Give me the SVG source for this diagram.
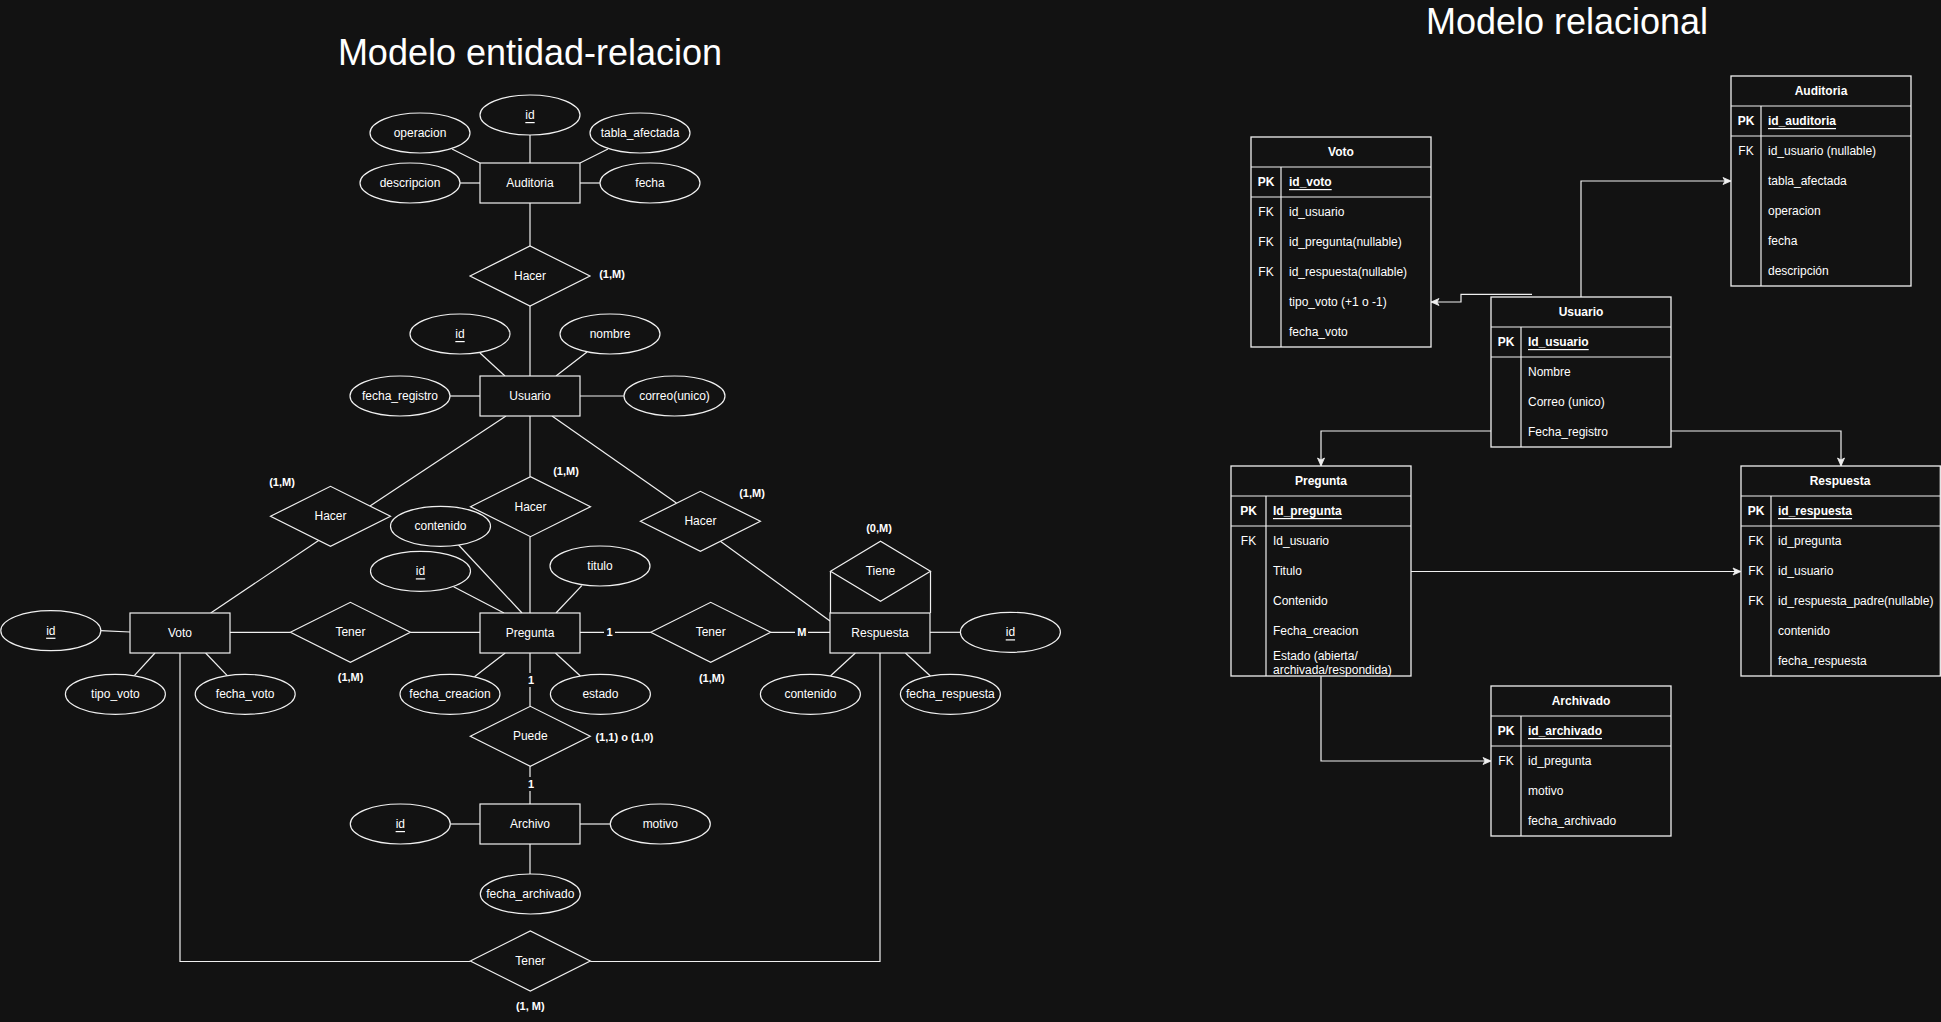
<svg xmlns="http://www.w3.org/2000/svg" width="1941" height="1022" viewBox="0 0 1941 1022">
<style>
text{font-family:"Liberation Sans",Arial,Helvetica,sans-serif;fill:#ffffff}
.t{font-size:12px;text-anchor:middle;dominant-baseline:central}
.c{font-size:11px;font-weight:bold;text-anchor:middle;dominant-baseline:central}
.u{text-decoration:underline}
.sh{fill:#121212;stroke:#f0f0f0;stroke-width:1.2}
.ln{fill:none;stroke:#f0f0f0;stroke-width:1.2}
.tb{fill:#121212;stroke:#f0f0f0;stroke-width:1.3}
.f{font-size:12px;dominant-baseline:central}
.b{font-weight:bold}
.k{font-size:12px;text-anchor:middle;dominant-baseline:central}
.title{font-size:36px;text-anchor:middle}
.bgl{fill:#121212}
</style>
<defs>
<marker id="arr" markerUnits="userSpaceOnUse" markerWidth="10" markerHeight="10" viewBox="0 0 10 10" refX="9" refY="5" orient="auto">
<path d="M1,1.5 L9,5 L1,8.5 L3,5 Z" fill="#f0f0f0" stroke="#f0f0f0" stroke-width="0.8"/>
</marker>
</defs>
<rect x="0" y="0" width="1941" height="1022" fill="#121212"/>

<text class="title" x="530" y="65">Modelo entidad-relacion</text>
<text class="title" x="1567" y="34">Modelo relacional</text>

<g id="er-connectors">
<line class="ln" x1="530" y1="135" x2="530" y2="163"/>
<line class="ln" x1="452" y1="149" x2="480" y2="163"/>
<line class="ln" x1="608" y1="149" x2="580" y2="163"/>
<line class="ln" x1="460" y1="183" x2="480" y2="183"/>
<line class="ln" x1="580" y1="183" x2="600" y2="183"/>
<line class="ln" x1="530" y1="203" x2="530" y2="246"/>
<line class="ln" x1="530" y1="306" x2="530" y2="376"/>
<line class="ln" x1="480" y1="353" x2="505" y2="376"/>
<line class="ln" x1="587" y1="352" x2="556" y2="376"/>
<line class="ln" x1="450" y1="396" x2="480" y2="396"/>
<line class="ln" x1="580" y1="396" x2="624" y2="396"/>
<line class="ln" x1="506" y1="416" x2="370" y2="506"/>
<line class="ln" x1="318.6" y1="540.4" x2="210.7" y2="613"/>
<line class="ln" x1="530" y1="416" x2="530" y2="476.7"/>
<line class="ln" x1="530" y1="536.7" x2="530" y2="613"/>
<line class="ln" x1="552" y1="416" x2="676.4" y2="503"/>
<line class="ln" x1="720.4" y1="541.3" x2="830" y2="621"/>
<line class="ln" x1="458.6" y1="545" x2="522" y2="613"/>
<line class="ln" x1="453.6" y1="586.7" x2="504" y2="613"/>
<line class="ln" x1="581.8" y1="585.7" x2="556" y2="613"/>
<line class="ln" x1="100.6" y1="630.7" x2="130" y2="632"/>
<line class="ln" x1="134.3" y1="675.7" x2="155" y2="653"/>
<line class="ln" x1="205.6" y1="653" x2="227.3" y2="675.7"/>
<line class="ln" x1="230" y1="632.3" x2="290.4" y2="632.3"/>
<line class="ln" x1="410.4" y1="632.3" x2="480" y2="632.3"/>
<line class="ln" x1="474.5" y1="676.7" x2="505.2" y2="653"/>
<line class="ln" x1="555.4" y1="653" x2="580.4" y2="676"/>
<line class="ln" x1="580" y1="632.3" x2="650.7" y2="632.3"/>
<line class="ln" x1="770.7" y1="632.3" x2="830" y2="632.3"/>
<line class="ln" x1="930" y1="632.3" x2="960.4" y2="632.3"/>
<line class="ln" x1="830.4" y1="676" x2="855.4" y2="653"/>
<line class="ln" x1="905.4" y1="653" x2="930.4" y2="676"/>
<line class="ln" x1="830.5" y1="613" x2="830.5" y2="571.3"/>
<line class="ln" x1="930.5" y1="613" x2="930.5" y2="571.3"/>
<line class="ln" x1="530" y1="653" x2="530" y2="706.3"/>
<line class="ln" x1="530" y1="766.3" x2="530" y2="804"/>
<line class="ln" x1="450.3" y1="824" x2="480" y2="824"/>
<line class="ln" x1="580" y1="824" x2="610.3" y2="824"/>
<line class="ln" x1="530" y1="844" x2="530" y2="874"/>
<polyline class="ln" points="180,653 180,961.5 470.3,961.5"/>
<polyline class="ln" points="880,653 880,961.5 590.3,961.5"/>
<rect class="bgl" x="604" y="625" width="11" height="14"/>
<text class="c" x="609.6" y="632">1</text>
<rect class="bgl" x="795" y="625" width="13" height="14"/>
<text class="c" x="801.8" y="632">M</text>
<rect class="bgl" x="525" y="673" width="11" height="14"/>
<text class="c" x="531" y="680">1</text>
<rect class="bgl" x="525" y="777" width="11" height="14"/>
<text class="c" x="531" y="784">1</text>
</g>

<g id="er-auditoria"><rect class="sh" x="480" y="163" width="100" height="40"/><text class="t" x="530" y="183">Auditoria</text></g>
<g id="er-aud-id"><ellipse class="sh" cx="530" cy="115" rx="50" ry="20"/><text class="t u" x="530" y="115">id</text></g>
<g id="er-aud-operacion"><ellipse class="sh" cx="420" cy="133" rx="50" ry="20"/><text class="t" x="420" y="133">operacion</text></g>
<g id="er-aud-tabla"><ellipse class="sh" cx="640" cy="133" rx="50" ry="20"/><text class="t" x="640" y="133">tabla_afectada</text></g>
<g id="er-aud-descripcion"><ellipse class="sh" cx="410" cy="183" rx="50" ry="20"/><text class="t" x="410" y="183">descripcion</text></g>
<g id="er-aud-fecha"><ellipse class="sh" cx="650" cy="183" rx="50" ry="20"/><text class="t" x="650" y="183">fecha</text></g>

<g id="er-hacer-aud"><polygon class="sh" points="470,276 530,246 590,276 530,306"/><text class="t" x="530" y="276">Hacer</text><text class="c" x="612" y="274">(1,M)</text></g>

<g id="er-usuario"><rect class="sh" x="480" y="376" width="100" height="40"/><text class="t" x="530" y="396">Usuario</text></g>
<g id="er-usu-id"><ellipse class="sh" cx="460" cy="334" rx="50" ry="20"/><text class="t u" x="460" y="334">id</text></g>
<g id="er-usu-nombre"><ellipse class="sh" cx="610" cy="334" rx="50" ry="20"/><text class="t" x="610" y="334">nombre</text></g>
<g id="er-usu-fecha"><ellipse class="sh" cx="400" cy="396" rx="50" ry="20"/><text class="t" x="400" y="396">fecha_registro</text></g>
<g id="er-usu-correo"><ellipse class="sh" cx="674.5" cy="396" rx="50.5" ry="20"/><text class="t" x="674.5" y="396">correo(unico)</text></g>

<g id="er-hacer-voto"><polygon class="sh" points="270.5,516.3 330.5,486.3 390.5,516.3 330.5,546.3"/><text class="t" x="330.5" y="516.3">Hacer</text><text class="c" x="282" y="482">(1,M)</text></g>
<g id="er-hacer-preg"><polygon class="sh" points="470.5,506.7 530.5,476.7 590.5,506.7 530.5,536.7"/><text class="t" x="530.5" y="506.7">Hacer</text><text class="c" x="566" y="471">(1,M)</text></g>
<g id="er-hacer-resp"><polygon class="sh" points="640.4,521.3 700.4,491.3 760.4,521.3 700.4,551.3"/><text class="t" x="700.4" y="521.3">Hacer</text><text class="c" x="752" y="493">(1,M)</text></g>

<g id="er-preg-contenido"><ellipse class="sh" cx="440.5" cy="526.3" rx="50" ry="20"/><text class="t" x="440.5" y="526.3">contenido</text></g>
<g id="er-preg-id"><ellipse class="sh" cx="420.5" cy="571.3" rx="50" ry="20"/><text class="t u" x="420.5" y="571.3">id</text></g>
<g id="er-preg-titulo"><ellipse class="sh" cx="600" cy="566" rx="50" ry="20"/><text class="t" x="600" y="566">titulo</text></g>
<g id="er-pregunta"><rect class="sh" x="480" y="613" width="100" height="40"/><text class="t" x="530" y="633">Pregunta</text></g>

<g id="er-voto"><rect class="sh" x="130" y="613" width="100" height="40"/><text class="t" x="180" y="633">Voto</text></g>
<g id="er-voto-id"><ellipse class="sh" cx="50.8" cy="630.7" rx="50" ry="20"/><text class="t u" x="50.8" y="630.7">id</text></g>
<g id="er-voto-tipo"><ellipse class="sh" cx="115.4" cy="694.3" rx="50" ry="20"/><text class="t" x="115.4" y="694.3">tipo_voto</text></g>
<g id="er-voto-fecha"><ellipse class="sh" cx="245.2" cy="694.3" rx="50" ry="20"/><text class="t" x="245.2" y="694.3">fecha_voto</text></g>

<g id="er-tener-voto"><polygon class="sh" points="290.4,632.3 350.4,602.3 410.4,632.3 350.4,662.3"/><text class="t" x="350.4" y="632.3">Tener</text><text class="c" x="350.6" y="677.3">(1,M)</text></g>
<g id="er-preg-fecha"><ellipse class="sh" cx="450" cy="694.3" rx="50" ry="20"/><text class="t" x="450" y="694.3">fecha_creacion</text></g>
<g id="er-preg-estado"><ellipse class="sh" cx="600.4" cy="694.3" rx="50" ry="20"/><text class="t" x="600.4" y="694.3">estado</text></g>

<g id="er-tener-resp"><polygon class="sh" points="650.7,632.3 710.7,602.3 770.7,632.3 710.7,662.3"/><text class="t" x="710.7" y="632.3">Tener</text><text class="c" x="711.8" y="677.7">(1,M)</text></g>

<g id="er-tiene"><polygon class="sh" points="830.5,571.3 880.5,541.3 930.5,571.3 880.5,601.3"/><text class="t" x="880.5" y="571.3">Tiene</text><text class="c" x="879" y="528.3">(0,M)</text></g>
<g id="er-respuesta"><rect class="sh" x="830" y="613" width="100" height="40"/><text class="t" x="880" y="633">Respuesta</text></g>
<g id="er-resp-id"><ellipse class="sh" cx="1010.4" cy="632.3" rx="50" ry="20"/><text class="t u" x="1010.4" y="632.3">id</text></g>
<g id="er-resp-contenido"><ellipse class="sh" cx="810.4" cy="694.3" rx="50" ry="20"/><text class="t" x="810.4" y="694.3">contenido</text></g>
<g id="er-resp-fecha"><ellipse class="sh" cx="950.4" cy="694.3" rx="50" ry="20"/><text class="t" x="950.4" y="694.3">fecha_respuesta</text></g>

<g id="er-puede"><polygon class="sh" points="470.3,736.3 530.3,706.3 590.3,736.3 530.3,766.3"/><text class="t" x="530.3" y="736.3">Puede</text><text class="c" x="624.5" y="737">(1,1) o (1,0)</text></g>
<g id="er-archivo"><rect class="sh" x="480" y="804" width="100" height="40"/><text class="t" x="530" y="824">Archivo</text></g>
<g id="er-arch-id"><ellipse class="sh" cx="400.3" cy="824" rx="50" ry="20"/><text class="t u" x="400.3" y="824">id</text></g>
<g id="er-arch-motivo"><ellipse class="sh" cx="660.3" cy="824" rx="50" ry="20"/><text class="t" x="660.3" y="824">motivo</text></g>
<g id="er-arch-fecha"><ellipse class="sh" cx="530.3" cy="894" rx="50" ry="20"/><text class="t" x="530.3" y="894">fecha_archivado</text></g>

<g id="er-tener-bottom"><polygon class="sh" points="470.3,961 530.3,931 590.3,961 530.3,991"/><text class="t" x="530.3" y="961">Tener</text><text class="c" x="530.3" y="1005.7">(1, M)</text></g>

<g id="rel-connectors">
<polyline class="ln" points="1581,297 1581,181 1731,181" marker-end="url(#arr)"/>
<polyline class="ln" points="1532,294.3 1461,294.3 1461,302 1431,302" marker-end="url(#arr)"/>
<polyline class="ln" points="1491,431 1321,431 1321,466" marker-end="url(#arr)"/>
<polyline class="ln" points="1671,431 1841,431 1841,466" marker-end="url(#arr)"/>
<polyline class="ln" points="1411,571.5 1741,571.5" marker-end="url(#arr)"/>
<polyline class="ln" points="1321,676 1321,761 1491,761" marker-end="url(#arr)"/>
</g>

<g id="tbl-voto">
<rect class="tb" x="1251" y="137" width="180" height="210"/>
<line class="ln" x1="1251" y1="167" x2="1431" y2="167"/>
<line class="ln" x1="1251" y1="197" x2="1431" y2="197"/>
<line class="ln" x1="1281" y1="167" x2="1281" y2="347"/>
<text class="k b" x="1341" y="152">Voto</text>
<text class="k b" x="1266" y="182">PK</text><text class="f b u" x="1289" y="182">id_voto</text>
<text class="k" x="1266" y="212">FK</text><text class="f" x="1289" y="212">id_usuario</text>
<text class="k" x="1266" y="242">FK</text><text class="f" x="1289" y="242">id_pregunta(nullable)</text>
<text class="k" x="1266" y="272">FK</text><text class="f" x="1289" y="272">id_respuesta(nullable)</text>
<text class="f" x="1289" y="302">tipo_voto (+1 o -1)</text>
<text class="f" x="1289" y="332">fecha_voto</text>
</g>

<g id="tbl-auditoria">
<rect class="tb" x="1731" y="76" width="180" height="210"/>
<line class="ln" x1="1731" y1="106" x2="1911" y2="106"/>
<line class="ln" x1="1731" y1="136" x2="1911" y2="136"/>
<line class="ln" x1="1761" y1="106" x2="1761" y2="286"/>
<text class="k b" x="1821" y="91">Auditoria</text>
<text class="k b" x="1746" y="121">PK</text><text class="f b u" x="1768" y="121">id_auditoria</text>
<text class="k" x="1746" y="151">FK</text><text class="f" x="1768" y="151">id_usuario (nullable)</text>
<text class="f" x="1768" y="181">tabla_afectada</text>
<text class="f" x="1768" y="211">operacion</text>
<text class="f" x="1768" y="241">fecha</text>
<text class="f" x="1768" y="271">descripción</text>
</g>

<g id="tbl-usuario">
<rect class="tb" x="1491" y="297" width="180" height="150"/>
<line class="ln" x1="1491" y1="327" x2="1671" y2="327"/>
<line class="ln" x1="1491" y1="357" x2="1671" y2="357"/>
<line class="ln" x1="1521" y1="327" x2="1521" y2="447"/>
<text class="k b" x="1581" y="312">Usuario</text>
<text class="k b" x="1506" y="342">PK</text><text class="f b u" x="1528" y="342">Id_usuario</text>
<text class="f" x="1528" y="372">Nombre</text>
<text class="f" x="1528" y="402">Correo (unico)</text>
<text class="f" x="1528" y="432">Fecha_registro</text>
</g>

<g id="tbl-pregunta">
<rect class="tb" x="1231" y="466" width="180" height="210"/>
<line class="ln" x1="1231" y1="496" x2="1411" y2="496"/>
<line class="ln" x1="1231" y1="526" x2="1411" y2="526"/>
<line class="ln" x1="1266" y1="496" x2="1266" y2="676"/>
<text class="k b" x="1321" y="481">Pregunta</text>
<text class="k b" x="1248.5" y="511">PK</text><text class="f b u" x="1273" y="511">Id_pregunta</text>
<text class="k" x="1248.5" y="541">FK</text><text class="f" x="1273" y="541">Id_usuario</text>
<text class="f" x="1273" y="571">Titulo</text>
<text class="f" x="1273" y="601">Contenido</text>
<text class="f" x="1273" y="631">Fecha_creacion</text>
<text class="f" x="1273" y="656">Estado (abierta/</text>
<text class="f" x="1273" y="670">archivada/respondida)</text>
</g>

<g id="tbl-respuesta">
<rect class="tb" x="1741" y="466" width="199.3" height="210"/>
<line class="ln" x1="1741" y1="496" x2="1940.3" y2="496"/>
<line class="ln" x1="1741" y1="526" x2="1940.3" y2="526"/>
<line class="ln" x1="1771" y1="496" x2="1771" y2="676"/>
<text class="k b" x="1840" y="481">Respuesta</text>
<text class="k b" x="1756" y="511">PK</text><text class="f b u" x="1778" y="511">id_respuesta</text>
<text class="k" x="1756" y="541">FK</text><text class="f" x="1778" y="541">id_pregunta</text>
<text class="k" x="1756" y="571">FK</text><text class="f" x="1778" y="571">id_usuario</text>
<text class="k" x="1756" y="601">FK</text><text class="f" x="1778" y="601">id_respuesta_padre(nullable)</text>
<text class="f" x="1778" y="631">contenido</text>
<text class="f" x="1778" y="661">fecha_respuesta</text>
</g>

<g id="tbl-archivado">
<rect class="tb" x="1491" y="686" width="180" height="150"/>
<line class="ln" x1="1491" y1="716" x2="1671" y2="716"/>
<line class="ln" x1="1491" y1="746" x2="1671" y2="746"/>
<line class="ln" x1="1521" y1="716" x2="1521" y2="836"/>
<text class="k b" x="1581" y="701">Archivado</text>
<text class="k b" x="1506" y="731">PK</text><text class="f b u" x="1528" y="731">id_archivado</text>
<text class="k" x="1506" y="761">FK</text><text class="f" x="1528" y="761">id_pregunta</text>
<text class="f" x="1528" y="791">motivo</text>
<text class="f" x="1528" y="821">fecha_archivado</text>
</g>
</svg>
